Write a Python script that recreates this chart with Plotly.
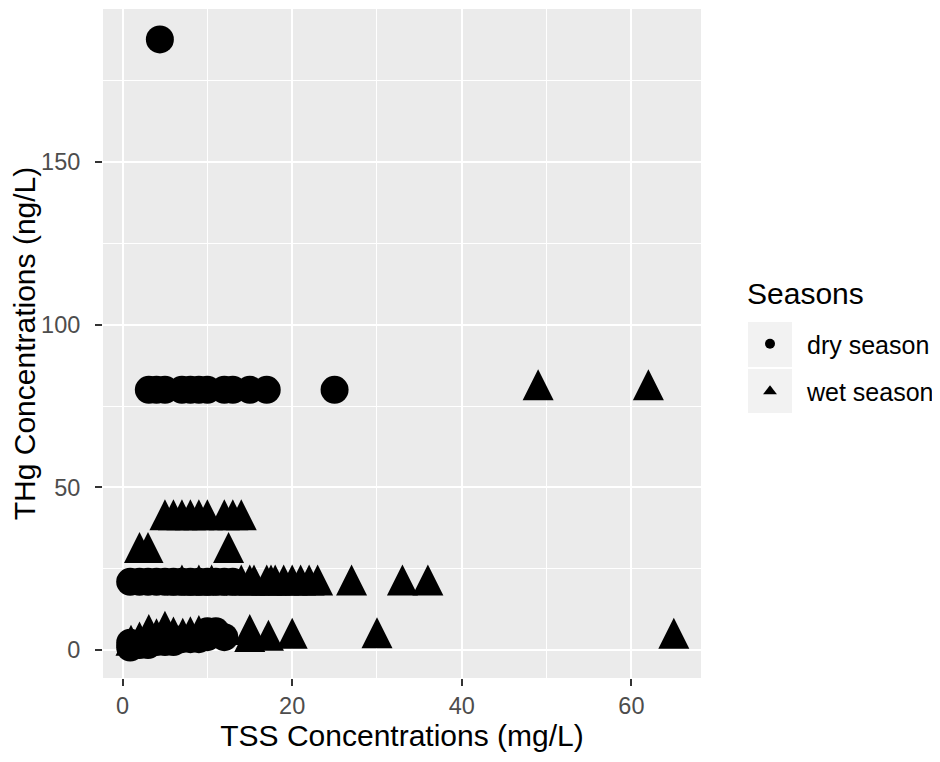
import plotly.graph_objects as go

# ---- data ----
dry_tss = [4.4,
           3.1, 4, 5, 7, 8, 9, 10, 12, 13, 15, 17, 25,
           0.9, 2, 3, 4, 5, 6, 7, 8, 9, 10, 11, 12, 13,
           0.9, 0.9, 2, 3, 4, 5, 6, 7, 8, 9, 10, 10, 11, 12]
dry_thg = [187.7,
           80, 80, 80, 80, 80, 80, 80, 80, 80, 80, 80, 80,
           21, 21, 21, 21, 21, 21, 21, 21, 21, 21, 21, 21, 21,
           2.3, 0.8, 1.6, 1.6, 2.5, 2.5, 2.5, 3.4, 3.4, 3.4, 4.0, 5.8, 5.8, 4.0]

wet_tss = [49, 62,
           5, 6, 7, 8, 9, 10, 12, 13, 14,
           2, 3, 12.5,
           7, 9, 10.5, 14, 15, 15.5, 17, 17.5, 18, 19, 20, 21, 22, 23, 27, 33, 36,
           1, 2, 3.1, 4, 5, 6, 7.1, 8, 9, 15, 15, 17.2, 20, 30, 65]
wet_thg = [80, 80,
           40, 40, 40, 40, 40, 40, 40, 40, 40,
           30, 30, 30,
           20, 20, 20, 20, 20, 20, 20, 20, 20, 20, 20, 20, 20, 20, 20, 20, 20,
           1.5, 2.5, 4.8, 3.5, 5.8, 4.0, 3.6, 4.1, 4.5, 4.8, 2.6, 3.0, 3.6, 3.8, 3.6]

season_names = ["dry season", "wet season"]
legend_title = "Seasons"
x_ticks = [0, 20, 40, 60]
y_ticks = [0, 50, 100, 150]

FONT = "Liberation Sans, Arial, sans-serif"
CIRCLE = 28
TRI = 31

fig = go.Figure()
fig.add_trace(go.Scatter(x=dry_tss, y=dry_thg, mode="markers", showlegend=False,
                         marker=dict(symbol="circle", size=CIRCLE, color="black",
                                     line=dict(width=0))))
fig.add_trace(go.Scatter(x=wet_tss, y=wet_thg, mode="markers", showlegend=False,
                         marker=dict(symbol="arrow-down", angle=180, standoff=2 * TRI / 3,
                                     size=TRI, color="black", line=dict(width=0))))
# legend entries
fig.add_trace(go.Scatter(x=[None], y=[None], mode="markers", name=season_names[0],
                         legendgroup="dry",
                         marker=dict(symbol="circle", size=10, color="black")))
fig.add_trace(go.Scatter(x=[None], y=[None], mode="markers", name=season_names[1],
                         legendgroup="wet",
                         marker=dict(symbol="triangle-up", size=12, color="black")))

def expand(vals):
    lo, hi = min(vals), max(vals)
    pad = (hi - lo) * 0.05
    return [lo - pad, hi + pad]

xr = expand(dry_tss + wet_tss)
yr = expand(dry_thg + wet_thg)

W, H = 940, 762
OFF = 8  # page body margin
PL, PR, PT, PB = 103, 701, 9, 678  # plot panel in page pixels
pw, ph = PR - PL, PB - PT

def px_x(p):
    return (p - PL) / pw

def px_y(p):
    return (PB - p) / ph

shapes = []
for (y0, y1) in [(322, 367), (369, 413)]:
    shapes.append(dict(type="rect", xref="paper", yref="paper",
                       x0=px_x(748), x1=px_x(792), y0=px_y(y1), y1=px_y(y0),
                       fillcolor="#F2F2F2", line=dict(width=0), layer="below"))

axis_common = dict(
    showgrid=True, gridcolor="white", gridwidth=2.3,
    zeroline=False, showline=False,
    ticks="outside", ticklen=7, tickwidth=1.7, tickcolor="#333333",
    tickfont=dict(family=FONT, size=23.5, color="#4D4D4D"),
)

fig.update_layout(
    width=W, height=H,
    margin=dict(l=PL - OFF, r=W - PR + OFF, t=PT - OFF, b=H - PB + OFF, autoexpand=False),
    paper_bgcolor="white", plot_bgcolor="#EBEBEB",
    font=dict(family=FONT, color="black"),
    shapes=shapes,
    xaxis=dict(range=xr, tickvals=x_ticks, **axis_common, ticklabelstandoff=0,
               minor=dict(dtick=10, tick0=0, showgrid=True, gridcolor="white",
                          gridwidth=1.15, ticks=""),
               title=dict(text="TSS Concentrations (mg/L)", standoff=3,
                          font=dict(family=FONT, size=30, color="black"))),
    yaxis=dict(range=yr, tickvals=y_ticks, **axis_common, ticklabelstandoff=10,
               minor=dict(dtick=25, tick0=0, showgrid=True, gridcolor="white",
                          gridwidth=1.15, ticks=""),
               title=dict(text="THg Concentrations (ng/L)", standoff=0,
                          font=dict(family=FONT, size=30, color="black"))),
    legend=dict(x=px_x(733), xanchor="left", y=px_y(321), yanchor="top",
                bgcolor="rgba(0,0,0,0)", itemwidth=64, tracegroupgap=12,
                font=dict(family=FONT, size=25, color="black")),
    annotations=[dict(text=legend_title, xref="paper", yref="paper",
                      x=px_x(745), y=px_y(293), xanchor="left", yanchor="middle",
                      showarrow=False, font=dict(family=FONT, size=30, color="black"))],
)

fig.write_html("out.html")
